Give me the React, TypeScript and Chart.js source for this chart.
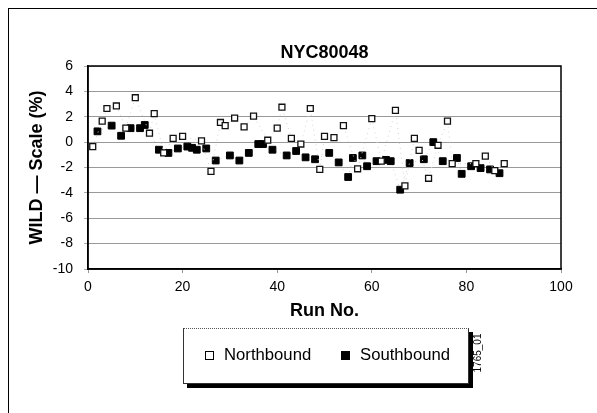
import React, { useEffect, useRef } from "react";
import { Chart, registerables } from "chart.js";

Chart.register(...registerables);

const chartTitle = "NYC80048";
const xTitle = "Run No.";
const yTitle = "WILD — Scale (%)";
const seriesNames = ["Northbound", "Southbound"];
const stampText = "1765_01";

const northRuns = [1, 3, 4, 6, 8, 10, 13, 14, 16, 18, 20, 24, 26, 28, 29, 31, 33, 35, 38, 40, 41, 43, 45, 47, 49, 50, 52, 54, 57, 60, 62, 65, 67, 69, 70, 72, 74, 76, 77, 82, 84, 86, 88];
const northVals = [-0.35, 1.65, 2.65, 2.85, 1.1, 3.5, 0.7, 2.25, -0.85, 0.3, 0.45, 0.1, -2.3, 1.55, 1.3, 1.9, 1.2, 2.05, 0.15, 1.1, 2.75, 0.3, -0.15, 2.65, -2.15, 0.45, 0.35, 1.3, -2.1, 1.85, -1.5, 2.5, -3.45, 0.3, -0.65, -2.85, -0.25, 1.65, -1.7, -1.7, -1.1, -2.25, -1.7];

const southRuns = [2, 5, 7, 9, 11, 12, 15, 17, 19, 21, 22, 23, 25, 27, 30, 32, 34, 36, 37, 39, 42, 44, 46, 48, 51, 53, 55, 56, 58, 59, 61, 63, 64, 66, 68, 71, 73, 75, 78, 79, 81, 83, 85, 87];
const southVals = [0.85, 1.3, 0.5, 1.1, 1.1, 1.35, -0.6, -0.85, -0.5, -0.35, -0.45, -0.6, -0.5, -1.45, -1.05, -1.45, -0.85, -0.15, -0.15, -0.6, -1.05, -0.7, -1.2, -1.35, -0.85, -1.6, -2.75, -1.25, -1.05, -1.9, -1.5, -1.4, -1.5, -3.75, -1.65, -1.35, 0.0, -1.5, -1.25, -2.5, -1.9, -2.05, -2.15, -2.45];

const xMin = 0, xMax = 100, xStep = 20;
const yMin = -10, yMax = 6, yStep = 2;

const FONT = "'Liberation Sans', Arial, Helvetica, sans-serif";

const frameArea = {
  id: "frameArea",
  afterDatasetsDraw(chart: any) {
    const { ctx, chartArea } = chart;
    ctx.save();
    ctx.strokeStyle = "#000";
    ctx.lineWidth = 1.5;
    ctx.strokeRect(chartArea.left, chartArea.top, chartArea.right - chartArea.left, chartArea.bottom - chartArea.top);
    ctx.restore();
  },
};

export default function App() {
  const ref = useRef<HTMLCanvasElement | null>(null);

  useEffect(() => {
    if (!ref.current) return;
    const north = northRuns.map((x, i) => ({ x, y: northVals[i] }));
    const south = southRuns.map((x, i) => ({ x, y: southVals[i] }));
    const chart = new Chart(ref.current, {
      type: "scatter",
      data: {
        datasets: [
          {
            label: seriesNames[0],
            data: north,
            showLine: true,
            borderColor: "#d2d2d2",
            borderWidth: 1,
            borderDash: [1, 4],
            pointStyle: "rect",
            pointRadius: 4.2,
            pointBorderWidth: 1.3,
            pointBorderColor: "#111",
            pointBackgroundColor: "#fff",
          },
          {
            label: seriesNames[1],
            data: south,
            showLine: true,
            borderColor: "#d2d2d2",
            borderWidth: 1,
            borderDash: [1, 4],
            pointStyle: "rect",
            pointRadius: 4.8,
            pointBorderWidth: 1,
            pointBorderColor: "#000",
            pointBackgroundColor: "#000",
          },
        ],
      },
      options: {
        animation: false,
        responsive: false,
        devicePixelRatio: 1,
        layout: { padding: { left: 0, right: 36, top: 0, bottom: 91.2 } },
        font: { family: FONT },
        plugins: {
          legend: { display: false },
          tooltip: { enabled: false },
          title: {
            display: true,
            text: chartTitle,
            fullSize: false,
            color: "#000",
            font: { family: FONT, size: 18, weight: "bold" },
            padding: { top: 42.5, bottom: 1.9 },
          },
        },
        scales: {
          x: {
            type: "linear",
            min: xMin,
            max: xMax,
            ticks: { stepSize: xStep, color: "#000", font: { family: FONT, size: 14 }, padding: 6 },
            grid: { drawOnChartArea: false, drawTicks: true, tickLength: 4, tickColor: "#999" },
            border: { display: true, color: "#000", width: 1.5 },
            title: { display: true, text: xTitle, color: "#000", font: { family: FONT, size: 18, weight: "bold" }, padding: { top: 0, bottom: 0 } },
            afterFit: (s: any) => { s.height = 52.8; },
          },
          y: {
            min: yMin,
            max: yMax,
            ticks: { stepSize: yStep, color: "#000", font: { family: FONT, size: 14 }, padding: 11 },
            grid: { color: "#333", lineWidth: 1, tickLength: 4, tickColor: "#aaa", tickBorderDash: [] },
            border: { display: true, color: "#000", width: 1.5, dash: [1, 1] },
            title: { display: true, text: yTitle, color: "#000", font: { family: FONT, size: 18, weight: "bold" }, padding: { top: 26.7, bottom: 0 } },
            afterFit: (s: any) => { s.width = 88; },
          },
        },
      },
      plugins: [frameArea],
    } as any);
    return () => chart.destroy();
  }, []);

  const sq = (filled: boolean): React.CSSProperties => ({
    display: "inline-block",
    width: 7,
    height: 7,
    border: "1px solid #000",
    background: filled ? "#000" : "#fff",
    marginRight: 10,
    verticalAlign: "middle",
  });

  return (
    <div style={{ position: "fixed", left: 0, top: 0, width: 597, height: 413, overflow: "hidden", background: "#fff", fontFamily: FONT }}>
      <div style={{ position: "absolute", left: 8, top: 8, width: 700, height: 500, borderLeft: "1px solid #000", borderTop: "1px solid #000" }} />
      <canvas ref={ref} width={597} height={413} style={{ position: "absolute", left: 0, top: 0, width: 597, height: 413 }} />
      <div
        style={{
          position: "absolute",
          left: 183,
          top: 328,
          width: 286,
          height: 56,
          boxSizing: "border-box",
          border: "1px solid #333",
          borderTop: "1px dotted #555",
          background: "#fff",
          boxShadow: "4px 4px 0 #000",
          fontSize: 16.7,
          color: "#000",
        }}
      >
        <div style={{ position: "absolute", left: 21, top: 16, whiteSpace: "nowrap", lineHeight: "20px" }}>
          <span style={sq(false)} />
          <span>{seriesNames[0]}</span>
        </div>
        <div style={{ position: "absolute", left: 157, top: 16, whiteSpace: "nowrap", lineHeight: "20px" }}>
          <span style={sq(true)} />
          <span>{seriesNames[1]}</span>
        </div>
      </div>
      <div
        style={{
          position: "absolute",
          left: 477,
          top: 353,
          transform: "translate(-50%, -50%) rotate(-90deg)",
          fontSize: 10,
          color: "#000",
          whiteSpace: "nowrap",
        }}
      >
        {stampText}
      </div>
    </div>
  );
}
